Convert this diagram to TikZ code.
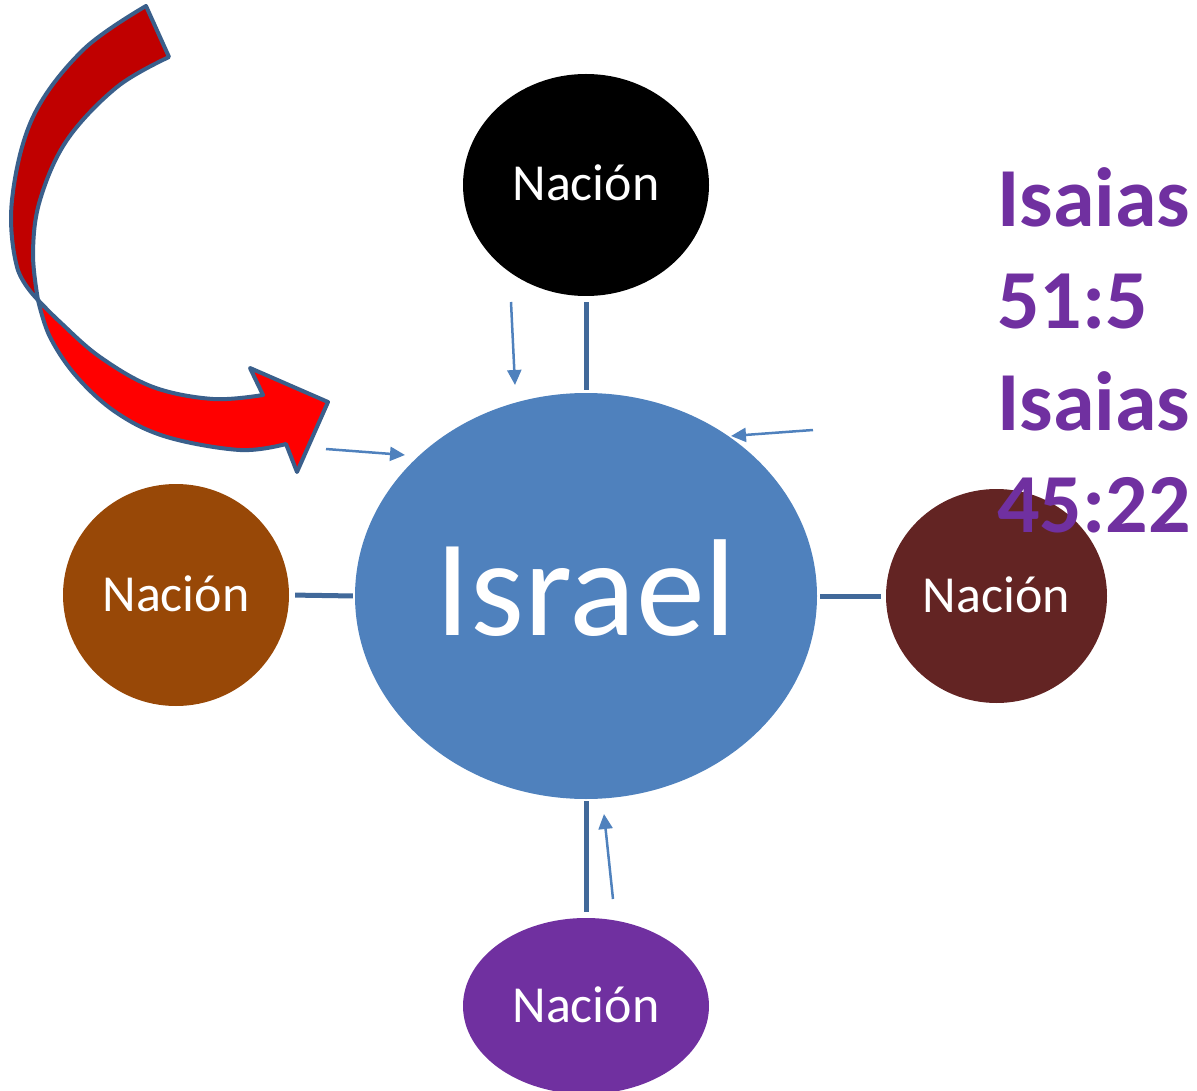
\documentclass[tikz,border=0pt]{standalone}
\usepackage{fontspec}
\setmainfont{Carlito}
\usetikzlibrary{shapes.geometric,arrows.meta}
\definecolor{isrblue}{HTML}{4F81BD}
\definecolor{linkblue}{HTML}{41699A}
\definecolor{outblue}{HTML}{3A5F8B}
\definecolor{nbrown}{HTML}{984807}
\definecolor{nred}{HTML}{632423}
\definecolor{npurple}{HTML}{7030A0}
\definecolor{darkred}{HTML}{C00000}
\begin{document}
\begin{tikzpicture}[x=1pt,y=-1pt,
  nacion/.style={ellipse, draw=none, inner sep=0pt, text=white,
    font=\fontsize{52}{60}\selectfont, text height=38pt, text depth=6pt},
  link/.style={draw=linkblue, line width=5pt},
  thinarrow/.style={draw=isrblue, line width=2.5pt, -{Triangle[length=15pt,width=14pt]}},
  bandstyle/.style={draw=outblue, line width=4pt, line join=round}]
\useasboundingbox (0,0) rectangle (1197,1091);

% curved arrow: lower bright band
\filldraw[bandstyle, fill=red]
  plot[smooth, tension=0.6] coordinates {(38,300) (50,337) (77,377) (117,413) (167,437) (240,450) (286,444)}
  -- (297,472) -- (328,402) -- (250,368) -- (263,395)
  -- plot[smooth, tension=0.6] coordinates {(263,395) (213,399) (153,387) (100,357) (60,322) (38,300)}
  -- cycle;
% curved arrow: upper dark band
\filldraw[bandstyle, fill=darkred]
  plot[smooth, tension=0.6] coordinates {(146,6) (83,50) (33,117) (12,200) (17,267) (38,300)}
  -- plot[smooth, tension=0.6] coordinates {(38,300) (33,253) (40,200) (67,140) (117,87) (169,57)}
  -- cycle;

% nodes
\node[ellipse, fill=isrblue, inner sep=0pt, minimum width=462pt, minimum height=406pt,
  text=white, font=\fontsize{138}{150}\selectfont, text height=78pt, text depth=0pt]
  (isr) at (586,596) {Israel};
\node[nacion, fill=black, minimum width=246pt, minimum height=222pt] (ntop) at (586,185) {Nación};
\node[nacion, fill=nbrown, minimum width=226pt, minimum height=222pt] (nleft) at (176,595) {Nación};
\node[nacion, fill=nred, minimum width=221pt, minimum height=214pt] (nright) at (996.5,596) {Nación};
\node[nacion, fill=npurple, minimum width=246pt, minimum height=176pt] (nbot) at (586,1006) {Nación};

% connectors
\draw[link, shorten <=6pt, shorten >=3pt] (ntop.south) -- (isr.north);
\draw[link, shorten <=6pt, shorten >=2pt] (nleft.east) -- (isr.west);
\draw[link, shorten <=5pt, shorten >=3pt] (nright.west) -- (isr.east);
\draw[link, shorten <=6pt, shorten >=2pt] (nbot.north) -- (isr.south);

% thin arrows
\coordinate (a1s) at (511,302); \coordinate (a1e) at (515,385);
\coordinate (a2s) at (326,449); \coordinate (a2e) at (405,455);
\coordinate (a3s) at (813,430); \coordinate (a3e) at (731,436);
\coordinate (a4s) at (613,899); \coordinate (a4e) at (604,814);
\draw[thinarrow] (a1s) -- (a1e);
\draw[thinarrow] (a2s) -- (a2e);
\draw[thinarrow] (a3s) -- (a3e);
\draw[thinarrow] (a4s) -- (a4e);

% reference text
\node[anchor=north west, inner sep=0pt, align=left, text=npurple,
  font=\fontsize{84}{102}\selectfont\bfseries] (ref) at (997,167)
  {Isaias\\51:5\\Isaias\\45:22};
\end{tikzpicture}
\end{document}
